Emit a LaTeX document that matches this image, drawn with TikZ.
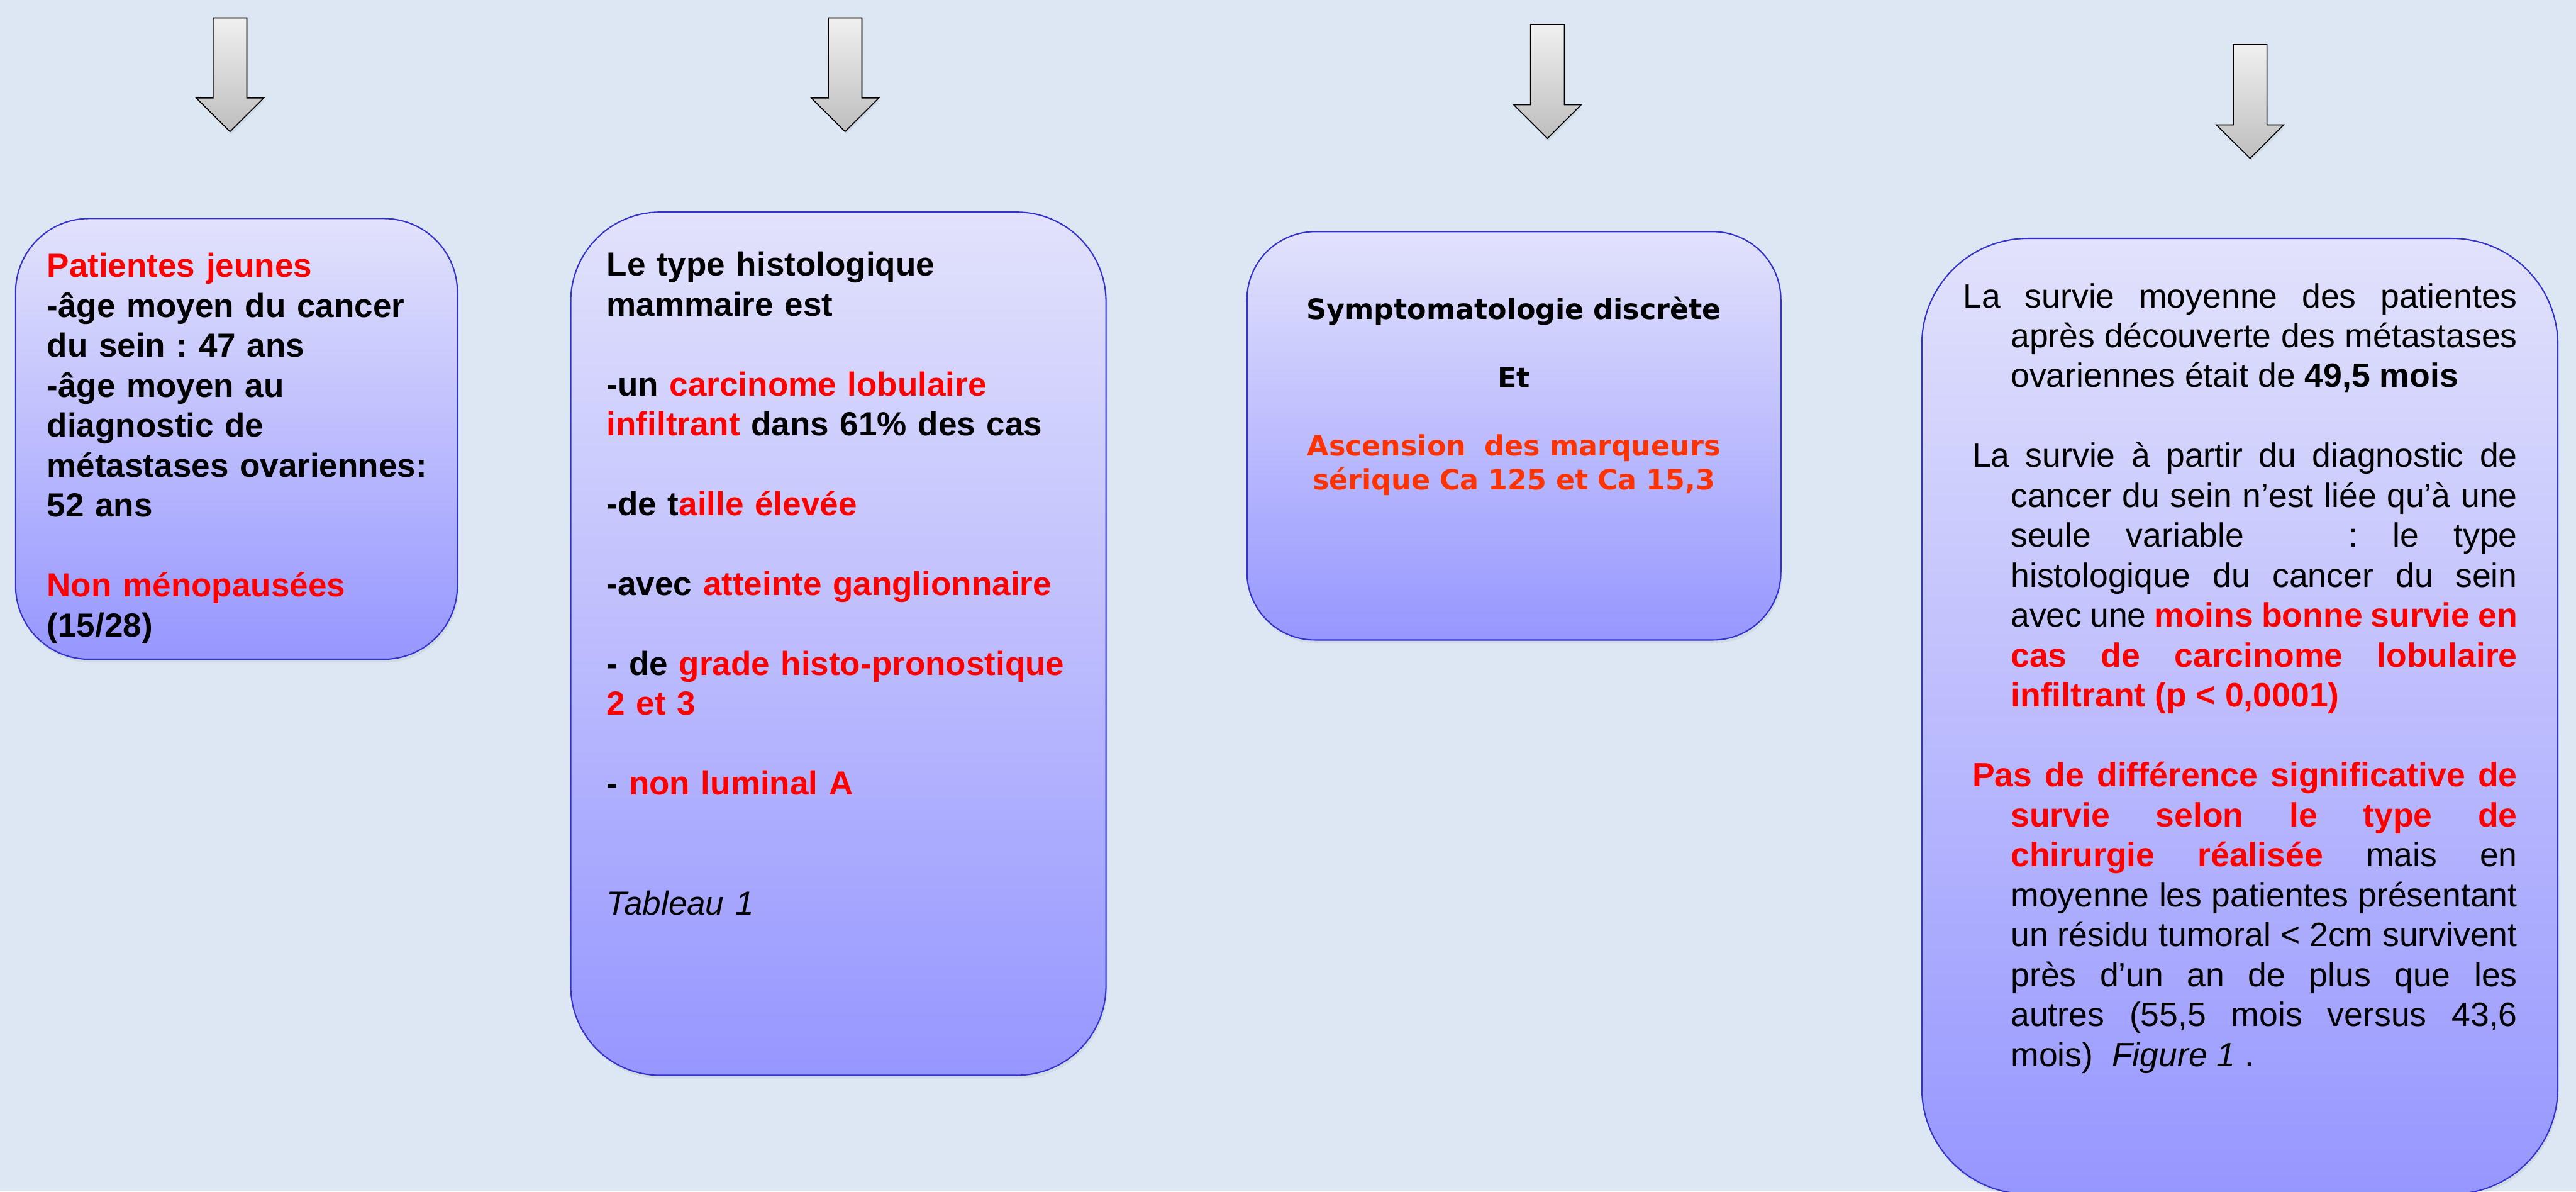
\documentclass[tikz,border=0pt]{standalone}
\usepackage{fontspec}
\setmainfont{Liberation Sans}
\newfontfamily\symfont{DejaVu Sans}
\usetikzlibrary{shadows}
\definecolor{bg}{RGB}{220,231,243}
\definecolor{boxtop}{RGB}{226,226,252}
\definecolor{boxbot}{RGB}{150,150,255}
\definecolor{boxline}{RGB}{51,51,204}
\definecolor{txtred}{RGB}{255,0,0}
\definecolor{orred}{RGB}{255,51,0}
\definecolor{arrtop}{RGB}{240,240,240}
\definecolor{arrbot}{RGB}{190,190,190}
\tikzset{
  cbox/.style={draw=boxline, line width=0.8pt, top color=boxtop, bottom color=boxbot,
    inner sep=0pt, outer sep=0pt, anchor=north west,
    drop shadow={opacity=0.12, shadow xshift=0.8pt, shadow yshift=-2pt}},
  downarrow/.style={draw=black, line width=0.6pt, top color=arrtop, bottom color=arrbot,
    line join=miter,
    drop shadow={opacity=0.12, shadow xshift=0.8pt, shadow yshift=-1.5pt}},
  boldtxt/.style={anchor=base west, inner sep=0pt, outer sep=0pt, text width=#1, align=left,
    font=\frenchspacing\fontsize{20.3pt}{24.3pt}\selectfont\bfseries},
  justtxt/.style={anchor=base west, inner sep=0pt, outer sep=0pt, text width=#1, align=justify,
    font=\frenchspacing\fontsize{20.5pt}{24.3pt}\selectfont},
  symtxt/.style={anchor=base, inner sep=0pt, outer sep=0pt, text width=#1, align=center,
    font=\frenchspacing\fontsize{17pt}{20.5pt}\selectfont\symfont\bfseries},
}
\newcommand{\rd}[1]{\textcolor{txtred}{#1}}
\newcommand{\dnarrow}[4]{% center x, top y, head y, tip y
  \path[downarrow] (#1-10.25,#2) -- (#1+10.25,#2) -- (#1+10.25,#3) -- (#1+20.5,#3)
    -- (#1,#4) -- (#1-20.5,#3) -- (#1-10.25,#3) -- cycle;}
\begin{document}
\frenchspacing
\begin{tikzpicture}[x=1pt,y=-1pt]
\useasboundingbox (0,0) rectangle (1568,725.1);
\fill[bg] (0,0) rectangle (1568,725.1);

% arrows
\dnarrow{140}{10.9}{59.7}{80.1}
\dnarrow{514.4}{10.9}{59.7}{80.1}
\dnarrow{941.9}{14.9}{63.8}{84.2}
\dnarrow{1369.6}{27.1}{76}{96.4}

% boxes
\node[cbox, rounded corners=44.7pt, minimum width=268.9pt, minimum height=268.2pt] (b1) at (9.5,133) {};
\node[cbox, rounded corners=54.3pt, minimum width=325.8pt, minimum height=525.3pt] (b2) at (347.4,129.1) {};
\node[cbox, rounded corners=41.4pt, minimum width=325pt, minimum height=248.5pt] (b3) at (759,141) {};
\node[cbox, rounded corners=64.5pt, minimum width=387.1pt, minimum height=581.6pt] (b4) at (1169.8,145.1) {};

% box 1 text
\node[boldtxt=248pt] (t1) at (28.6,168.8) {%
\rd{Patientes jeunes}\\
-âge moyen du cancer\\
du sein : 47 ans\\
-âge moyen au\\
diagnostic de\\
métastases ovariennes:\\
52 ans\\[24.3pt]
\rd{Non ménopausées}\\
(15/28)};

% box 2 text
\node[boldtxt=300pt] (t2) at (369.3,167.9) {%
Le type histologique\\
mammaire est\\[24.3pt]
-un \rd{carcinome lobulaire}\\
\rd{infiltrant} dans 61\% des cas\\[24.3pt]
-de t\rd{aille élevée}\\[24.3pt]
-avec \rd{atteinte ganglionnaire}\\[24.3pt]
- de \rd{grade histo-pronostique}\\
\rd{2 et 3}\\[24.3pt]
- \rd{non luminal A}\\[48.6pt]
{\mdseries\itshape Tableau 1}};

% box 3 text
\node[symtxt=310pt] (t3) at (921.5,194.4) {%
Symptomatologie discrète\\[21.1pt]
Et\\[21pt]
\textcolor{orred}{Ascension\ \ des marqueurs}\\
\textcolor{orred}{sérique Ca 125 et Ca 15,3}};

% box 4 text
\node[justtxt=337.3pt] (t4) at (1195,187.2) {%
\parindent=0pt\tolerance=10000\hyphenpenalty=10000\exhyphenpenalty=10000
\hangindent=29pt\hangafter=1
La survie moyenne des patientes\linebreak
après découverte des métastases\linebreak
ovariennes était de \textbf{49,5 mois}\par\vspace{24.3pt}
\hangindent=29pt\hangafter=1
\hspace*{5.5pt}La survie à partir du diagnostic de\linebreak
cancer du sein n’est liée qu’à une\linebreak
seule variable\ \ \ : le type\linebreak
histologique du cancer du sein\linebreak
avec une \textbf{\rd{moins bonne survie en}}\linebreak
\textbf{\rd{cas de carcinome lobulaire}}\linebreak
\textbf{\rd{infiltrant (p < 0,0001)}}\par\vspace{24.3pt}
\hangindent=29pt\hangafter=1
\hspace*{5.5pt}\textbf{\rd{Pas de différence significative de}}\linebreak
\textbf{\rd{survie selon le type de}}\linebreak
\textbf{\rd{chirurgie réalisée}} mais en\linebreak
moyenne les patientes présentant\linebreak
un résidu tumoral < 2cm survivent\linebreak
près d’un an de plus que les\linebreak
autres (55,5 mois versus 43,6\linebreak
mois)\ \ \textit{Figure 1} .\par};
\end{tikzpicture}
\end{document}
